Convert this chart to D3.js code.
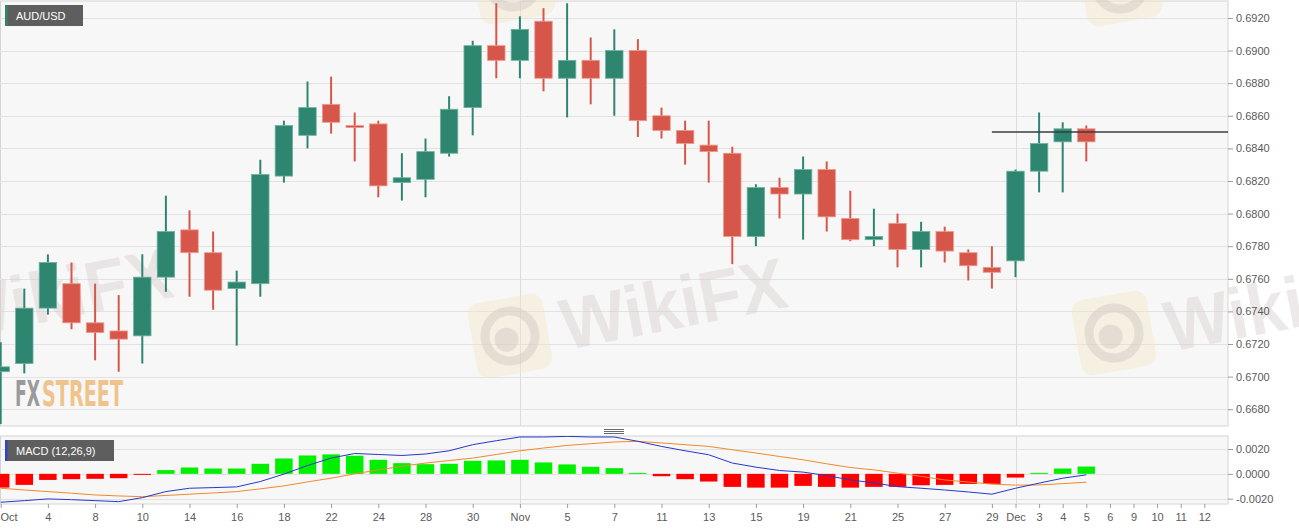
<!DOCTYPE html>
<html>
<head>
<meta charset="utf-8">
<script src="https://cdn.jsdelivr.net/npm/d3@7"></script>
<style>
  body { margin: 0; background: #fff; }
  svg text { font-family: "Liberation Sans", Arial, sans-serif; }
</style>
</head>
<body>
<svg id="chart" width="1299" height="530"></svg>
<script>
// trading days shown on the axis (last five have no candles yet)
var dates = [
  "Oct 2","Oct 3","Oct 4","Oct 7","Oct 8","Oct 9","Oct 10","Oct 11","Oct 14","Oct 15","Oct 16",
  "Oct 17","Oct 18","Oct 21","Oct 22","Oct 23","Oct 24","Oct 25","Oct 28","Oct 29","Oct 30","Oct 31",
  "Nov 1","Nov 4","Nov 5","Nov 6","Nov 7","Nov 8","Nov 11","Nov 12","Nov 13","Nov 14","Nov 15",
  "Nov 18","Nov 19","Nov 20","Nov 21","Nov 22","Nov 25","Nov 26","Nov 27","Nov 28","Nov 29",
  "Dec 2","Dec 3","Dec 4","Dec 5","Dec 6","Dec 9","Dec 10","Dec 11","Dec 12"
];

var open  = [0.6703,0.6708,0.6742,0.6757,0.6733,0.6728,0.6725,0.6761,0.6790,0.6776,0.6754,0.6757,0.6823,0.6848,0.6867,0.6854,0.6855,0.6819,0.6821,0.6837,0.6865,0.6903,0.6894,0.6918,0.6883,0.6894,0.6883,0.6900,0.6860,0.6851,0.6842,0.6837,0.6786,0.6816,0.6812,0.6827,0.6797,0.6784,0.6794,0.6778,0.6789,0.6776,0.6767,0.6771,0.6826,0.6844,0.6852];
var high  = [0.6721,0.6754,0.6775,0.6770,0.6757,0.6750,0.6775,0.6811,0.6802,0.6789,0.6765,0.6833,0.6857,0.6881,0.6884,0.6862,0.6857,0.6837,0.6846,0.6872,0.6906,0.6929,0.6921,0.6926,0.6929,0.6908,0.6913,0.6907,0.6865,0.6857,0.6857,0.6841,0.6818,0.6822,0.6835,0.6832,0.6814,0.6803,0.6800,0.6795,0.6792,0.6778,0.6780,0.6827,0.6862,0.6856,0.6854];
var low   = [0.6671,0.6702,0.6738,0.6729,0.6710,0.6703,0.6708,0.6752,0.6749,0.6741,0.6719,0.6749,0.6819,0.6840,0.6849,0.6832,0.6810,0.6808,0.6810,0.6835,0.6848,0.6883,0.6883,0.6875,0.6859,0.6867,0.6860,0.6847,0.6846,0.6830,0.6819,0.6769,0.6780,0.6797,0.6784,0.6789,0.6783,0.6780,0.6767,0.6767,0.6770,0.6759,0.6754,0.6761,0.6813,0.6813,0.6832];
var close = [0.6706,0.6742,0.6770,0.6733,0.6727,0.6723,0.6761,0.6789,0.6776,0.6753,0.6758,0.6824,0.6854,0.6865,0.6856,0.6853,0.6817,0.6822,0.6838,0.6864,0.6903,0.6894,0.6913,0.6883,0.6894,0.6883,0.6900,0.6857,0.6851,0.6843,0.6838,0.6786,0.6816,0.6812,0.6827,0.6798,0.6784,0.6786,0.6778,0.6789,0.6777,0.6768,0.6764,0.6826,0.6843,0.6852,0.6844];

// MACD (12,26,9)
var macdLine = [-0.00229,-0.00216,-0.00202,-0.00208,-0.00216,-0.00224,-0.00192,-0.00143,-0.00116,-0.00111,-0.00105,-0.00062,-0.00002,0.00067,0.00127,0.00164,0.00156,0.00148,0.00160,0.00186,0.00235,0.00267,0.00297,0.00297,0.00302,0.00297,0.00297,0.00262,0.00221,0.00186,0.00154,0.00087,0.00054,0.00027,0.00014,-0.00014,-0.00049,-0.00073,-0.00103,-0.00116,-0.00130,-0.00146,-0.00164,-0.00116,-0.00075,-0.00035,-0.00008];
var signalLine = [-0.00116,-0.00130,-0.00143,-0.00156,-0.00170,-0.00178,-0.00184,-0.00174,-0.00164,-0.00154,-0.00143,-0.00121,-0.00097,-0.00065,-0.00035,0.00000,0.00032,0.00061,0.00087,0.00107,0.00127,0.00156,0.00186,0.00208,0.00229,0.00243,0.00257,0.00262,0.00249,0.00235,0.00221,0.00194,0.00168,0.00140,0.00113,0.00081,0.00051,0.00032,0.00006,-0.00020,-0.00049,-0.00066,-0.00083,-0.00091,-0.00089,-0.00079,-0.00067];
var histogram = [-0.00111,-0.00089,-0.00049,-0.00043,-0.00040,-0.00035,-0.00008,0.00030,0.00051,0.00043,0.00043,0.00081,0.00124,0.00148,0.00157,0.00146,0.00113,0.00086,0.00078,0.00081,0.00105,0.00108,0.00113,0.00092,0.00076,0.00057,0.00046,0.00008,-0.00019,-0.00043,-0.00062,-0.00105,-0.00111,-0.00111,-0.00097,-0.00105,-0.00111,-0.00105,-0.00105,-0.00092,-0.00089,-0.00081,-0.00081,-0.00030,0.00008,0.00043,0.00059];

var priceTicks = [0.6680,0.6700,0.6720,0.6740,0.6760,0.6780,0.6800,0.6820,0.6840,0.6860,0.6880,0.6900,0.6920];
var macdTicks = [-0.0020,0.0000,0.0020];
var tickDates = ["Oct 2","Oct 4","Oct 8","Oct 10","Oct 14","Oct 16","Oct 18","Oct 22","Oct 24","Oct 28","Oct 30",
  "Nov 1","Nov 5","Nov 7","Nov 11","Nov 13","Nov 15","Nov 19","Nov 21","Nov 25","Nov 27","Nov 29",
  "Dec 2","Dec 3","Dec 4","Dec 5","Dec 6","Dec 9","Dec 10","Dec 11","Dec 12"];
var tickLabels = ["Oct","4","8","10","14","16","18","22","24","28","30",
  "Nov","5","7","11","13","15","19","21","25","27","29",
  "Dec","3","4","5","6","9","10","11","12"];
var monthStarts = ["Nov 1","Dec 2"];
var levelLine = { from: "Nov 29", value: 0.6850 };

var candles = open.map(function(o, i) {
  return { date: dates[i], open: o, high: high[i], low: low[i], close: close[i] };
});
var macdData = macdLine.map(function(m, i) {
  return { date: dates[i], macd: m, signal: signalLine[i], hist: histogram[i] };
});

var svg = d3.select("#chart");
var plotRight = 1228;
var main = { top: 1, bottom: 426 };
var sub = { top: 436, bottom: 504 };

var teal = "#2e8671", red = "#d6574a";

var x = d3.scalePoint().domain(dates).range([0.7, 1204.3]);
var bodyW = x.step() * 0.74;

var y = d3.scaleLinear().domain([0.66697, 0.69304]).range([main.bottom, main.top]);
var ym = d3.scaleLinear().domain([-0.00243, 0.00305]).range([sub.bottom, sub.top]);

// panels
svg.append("rect").attr("x", 0.5).attr("y", main.top).attr("width", plotRight - 0.5).attr("height", main.bottom - main.top)
  .attr("fill", "#f7f7f7").attr("stroke", "#d4d4d4");
svg.append("rect").attr("x", 0.5).attr("y", sub.top).attr("width", plotRight - 0.5).attr("height", sub.bottom - sub.top)
  .attr("fill", "#f7f7f7").attr("stroke", "#d4d4d4");

svg.append("defs").call(function(d) {
  d.append("clipPath").attr("id", "clipMain").append("rect")
    .attr("x", 0).attr("y", main.top).attr("width", plotRight).attr("height", main.bottom - main.top);
  d.append("clipPath").attr("id", "clipSub").append("rect")
    .attr("x", 0).attr("y", sub.top).attr("width", plotRight).attr("height", sub.bottom - sub.top);
});

// grid
svg.append("g").selectAll("line").data(priceTicks).enter().append("line")
  .attr("x1", 0).attr("x2", plotRight)
  .attr("y1", function(d) { return Math.round(y(d)) + 0.5; })
  .attr("y2", function(d) { return Math.round(y(d)) + 0.5; })
  .attr("stroke", "#e2e2e2");
svg.append("g").selectAll("line").data(macdTicks).enter().append("line")
  .attr("x1", 0).attr("x2", plotRight)
  .attr("y1", function(d) { return Math.round(ym(d)) + 0.5; })
  .attr("y2", function(d) { return Math.round(ym(d)) + 0.5; })
  .attr("stroke", "#e2e2e2");
[main, sub].forEach(function(p) {
  svg.append("g").selectAll("line").data(monthStarts).enter().append("line")
    .attr("x1", function(d) { return Math.round(x(d)) + 0.5; })
    .attr("x2", function(d) { return Math.round(x(d)) + 0.5; })
    .attr("y1", p.top).attr("y2", p.bottom)
    .attr("stroke", "#dcdcdc");
});

// watermarks (they run over the axis strip in the original, so no clip)
var wm = svg.append("g").attr("pointer-events", "none");
function logo(cx, cy) {
  var g = wm.append("g").attr("transform", "translate(" + cx + "," + cy + ") rotate(-10)");
  g.append("rect").attr("x", -38).attr("y", -38).attr("width", 76).attr("height", 76).attr("rx", 12)
    .attr("fill", "#f4e6c2").attr("opacity", 0.4);
  g.append("circle").attr("r", 25).attr("fill", "none").attr("stroke", "#d2cac5").attr("stroke-width", 9).attr("opacity", 0.5);
  g.append("circle").attr("r", 12).attr("cx", -4).attr("cy", 3).attr("fill", "#d2cac5").attr("opacity", 0.5);
}
function wmText(tx, ty) {
  wm.append("text").attr("transform", "translate(" + tx + "," + ty + ") rotate(-11)")
    .attr("font-size", 72).attr("font-weight", "bold").attr("fill", "#d8d0cf").attr("opacity", 0.45)
    .attr("textLength", 228).attr("lengthAdjust", "spacingAndGlyphs")
    .text("WikiFX");
}
logo(510, 336); wmText(566, 350);
logo(1114, 333); wmText(1170, 352);
wmText(-48, 340);
logo(513, -18); logo(1120, -16);

// FXSTREET mark
var fxFont = "'Liberation Sans Narrow','DejaVu Sans Condensed',sans-serif";
svg.append("text").attr("x", 15).attr("y", 406).attr("font-size", 35).attr("font-weight", "bold")
  .style("font-family", fxFont).attr("fill", "#9a9a9a")
  .attr("textLength", 25).attr("lengthAdjust", "spacingAndGlyphs").text("FX");
svg.append("text").attr("x", 42).attr("y", 406).attr("font-size", 35).attr("font-weight", "bold")
  .style("font-family", fxFont).attr("fill", "#efc48c")
  .attr("textLength", 81).attr("lengthAdjust", "spacingAndGlyphs").text("STREET");

// candles
var cg = svg.append("g").attr("clip-path", "url(#clipMain)");
var c = cg.selectAll(".candle").data(candles).enter().append("g").attr("class", "candle");
c.append("line")
  .attr("x1", function(d) { return x(d.date); })
  .attr("x2", function(d) { return x(d.date); })
  .attr("y1", function(d) { return y(d.high); })
  .attr("y2", function(d) { return y(d.low); })
  .attr("stroke", function(d) { return d.close >= d.open ? teal : red; })
  .attr("stroke-width", 2);
c.append("rect")
  .attr("x", function(d) { return x(d.date) - bodyW / 2; })
  .attr("y", function(d) { return y(Math.max(d.open, d.close)); })
  .attr("width", bodyW)
  .attr("height", function(d) { return Math.max(2, Math.abs(y(d.open) - y(d.close))); })
  .attr("fill", function(d) { return d.close >= d.open ? teal : red; })
  .attr("stroke", function(d) { return d.close >= d.open ? "#6fb3a2" : "#eb9a8f"; })
  .attr("stroke-width", 0.8);

// level line
cg.append("line")
  .attr("x1", x(levelLine.from)).attr("x2", plotRight)
  .attr("y1", y(levelLine.value)).attr("y2", y(levelLine.value))
  .attr("stroke", "#3c3c3c").attr("stroke-width", 1.5);

// MACD
var mg = svg.append("g").attr("clip-path", "url(#clipSub)");
mg.selectAll(".bar").data(macdData).enter().append("rect")
  .attr("class", "bar")
  .attr("x", function(d) { return x(d.date) - bodyW / 2; })
  .attr("y", function(d) { return ym(Math.max(0, d.hist)); })
  .attr("width", bodyW)
  .attr("height", function(d) { return Math.max(1, Math.abs(ym(d.hist) - ym(0))); })
  .attr("fill", function(d) { return d.hist >= 0 ? "#00f000" : "#ff0000"; });
mg.append("path").datum(macdData)
  .attr("fill", "none").attr("stroke", "#f08a2c").attr("stroke-width", 1)
  .attr("d", d3.line().x(function(d) { return x(d.date); }).y(function(d) { return ym(d.signal); }));
mg.append("path").datum(macdData)
  .attr("fill", "none").attr("stroke", "#2639c8").attr("stroke-width", 1)
  .attr("d", d3.line().x(function(d) { return x(d.date); }).y(function(d) { return ym(d.macd); }));

// axes
function styleAxis(g) {
  g.select(".domain").remove();
  g.selectAll(".tick line").attr("stroke", "#9a9a9a");
  g.selectAll(".tick text").attr("fill", "#5a5a5a").attr("font-size", 11)
    .style("font-family", "'Liberation Sans', Arial, sans-serif");
}
svg.append("g").attr("transform", "translate(" + plotRight + ",0)")
  .call(d3.axisRight(y).tickValues(priceTicks).tickFormat(d3.format(".4f")).tickSize(5).tickPadding(3))
  .call(styleAxis);
svg.append("g").attr("transform", "translate(" + plotRight + ",0)")
  .call(d3.axisRight(ym).tickValues(macdTicks)
    .tickFormat(function(d) { return d3.format(".4f")(d).replace("\u2212", "-"); })
    .tickSize(5).tickPadding(3))
  .call(styleAxis);
var xa = svg.append("g").attr("transform", "translate(0," + sub.bottom + ")")
  .call(d3.axisBottom(x).tickValues(tickDates)
    .tickFormat(function(d) { return tickLabels[tickDates.indexOf(d)]; })
    .tickSize(4).tickPadding(5))
  .call(styleAxis);
xa.selectAll(".tick text").filter(function(d) { return d === tickDates[0]; })
  .attr("text-anchor", "start").attr("x", -x(tickDates[0]));

// panel handle
[0, 2, 4].forEach(function(o) {
  svg.append("line").attr("x1", 604).attr("x2", 624).attr("y1", 429 + o + 0.5).attr("y2", 429 + o + 0.5)
    .attr("stroke", "#6a6a6a");
});

// labels
function tag(lx, ly, w, stripe, txt) {
  svg.append("rect").attr("x", lx).attr("y", ly).attr("width", w).attr("height", 21).attr("fill", "#5e5e5e");
  svg.append("rect").attr("x", lx).attr("y", ly).attr("width", 2.5).attr("height", 21).attr("fill", stripe);
  svg.append("text").attr("x", lx + 11).attr("y", ly + 15).attr("fill", "#fff").attr("font-size", 11).text(txt);
}
tag(5, 5, 78, teal, "AUD/USD");
tag(5, 440, 109, "#2f45c2", "MACD (12,26,9)");
</script>
</body>
</html>
